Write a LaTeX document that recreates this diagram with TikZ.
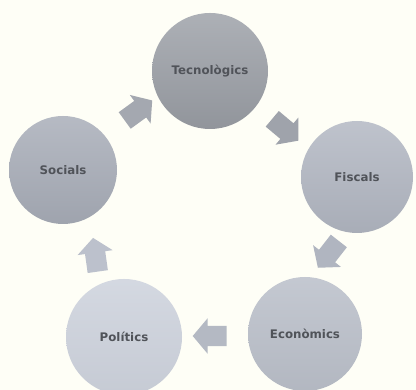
\documentclass[tikz,border=0pt]{standalone}
\usepackage{fontspec}
\setmainfont{DejaVu Sans}
\usetikzlibrary{shapes.arrows}
\definecolor{bg}{HTML}{FEFEF6}
\definecolor{ctec}{HTML}{9EA2A9}
\definecolor{csoc}{HTML}{A9AEB9}
\definecolor{cfis}{HTML}{B3B8C3}
\definecolor{ceco}{HTML}{BCC1CB}
\definecolor{cpol}{HTML}{CED3DD}
\definecolor{carrowa}{HTML}{A4A8B0}
\definecolor{carrowb}{HTML}{9FA3AB}
\definecolor{carrowc}{HTML}{B0B5C0}
\definecolor{carrowd}{HTML}{B4B9C3}
\definecolor{carrowe}{HTML}{BCC1CC}
\definecolor{ctext}{HTML}{505359}
\tikzset{
  bubble/.style={circle, inner sep=0pt, minimum size=#1, font=\fontsize{11.8}{13}\selectfont\bfseries, text=ctext},
  blockarrow/.style={single arrow, draw=none, inner sep=10pt, minimum height=34pt, single arrow head extend=7.5pt, single arrow tip angle=100, rotate=#1},
}
\begin{document}
\begin{tikzpicture}[x=1pt,y=1pt]
\useasboundingbox (0,0) rectangle (416,390);
\clip (0,0) rectangle (416,390);
\fill[bg] (0,0) rectangle (416,390);
% circles
\node[bubble=116pt, top color=ctec!85!white, bottom color=ctec!92!black] (tec) at (210,319) {Tecnològics};
\node[bubble=108pt, top color=csoc!85!white, bottom color=csoc!94!black] (soc) at (63,220) {Socials};
\node[bubble=112pt, top color=cfis!85!white, bottom color=cfis!94!black] (fis) at (357,213) {Fiscals};
\node[bubble=114pt, top color=ceco!88!white, bottom color=ceco!95!black] (eco) at (305,56) {Econòmics};
\node[bubble=116pt, top color=cpol!88!white, bottom color=cpol!96!black] (pol) at (124,53) {Polítics};
% arrows
\node[blockarrow=36, fill=carrowa] (a1) at (135,277) {};
\node[blockarrow=-40, fill=carrowb] (a2) at (282,263) {};
\node[blockarrow=-128, fill=carrowc] (a3) at (331,139) {};
\node[blockarrow=180, fill=carrowd] (a4) at (214,54) {};
\node[blockarrow=98, fill=carrowe] (a5) at (96,131) {};
\end{tikzpicture}
\end{document}
